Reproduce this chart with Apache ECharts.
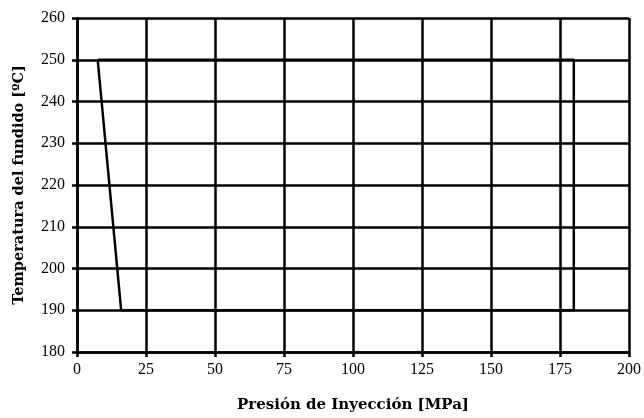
<!DOCTYPE html>
<html><head><meta charset="utf-8">
<script src="https://cdn.jsdelivr.net/npm/echarts@6/dist/echarts.min.js"></script>
<style>html,body{margin:0;padding:0;background:#fff}#c{width:644px;height:418px}</style>
</head><body><div id="c"></div>
<script>
const presion = [7.5, 16, 180, 180, 7.5];
const temperatura = [250, 190, 190, 250, 250];
const xTicks = [0, 200, 25];
const yTicks = [180, 260, 10];
const xName = 'Presión de Inyección [MPa]';
const yName = 'Temperatura del fundido [ºC]';

const chart = echarts.init(document.getElementById('c'));
const font = 'Liberation Serif';
const nameFont = 'DejaVu Serif';
const lw = 2.5;
chart.setOption({
  animation: false,
  backgroundColor: '#fff',
  grid: {left: 77, right: 11, top: 18, bottom: 65},
  xAxis: {
    type: 'value', min: xTicks[0], max: xTicks[1], interval: xTicks[2],
    name: xName, nameLocation: 'middle', nameGap: 46,
    nameTextStyle: {fontFamily: nameFont, fontWeight: 'bold', fontSize: 15, color: '#000'},
    axisLine: {lineStyle: {color: '#000', width: lw}},
    axisTick: {show: true, length: 5, lineStyle: {color: '#000', width: lw}},
    axisLabel: {fontFamily: font, fontSize: 16, color: '#000', margin: 10},
    splitLine: {show: true, lineStyle: {color: '#000', width: lw}}
  },
  yAxis: {
    type: 'value', min: yTicks[0], max: yTicks[1], interval: yTicks[2],
    name: yName, nameLocation: 'middle', nameGap: 50,
    nameTextStyle: {fontFamily: nameFont, fontWeight: 'bold', fontSize: 14.5, color: '#000'},
    axisLine: {show: true, lineStyle: {color: '#000', width: lw}},
    axisTick: {show: true, length: 5, lineStyle: {color: '#000', width: lw}},
    axisLabel: {fontFamily: font, fontSize: 16, color: '#000', margin: 12},
    splitLine: {show: true, lineStyle: {color: '#000', width: lw}}
  },
  series: [{
    type: 'line',
    data: presion.map((x, i) => [x, temperatura[i]]),
    showSymbol: false, symbol: 'none',
    lineStyle: {color: '#000', width: lw},
    clip: false
  }]
});
</script></body></html>
